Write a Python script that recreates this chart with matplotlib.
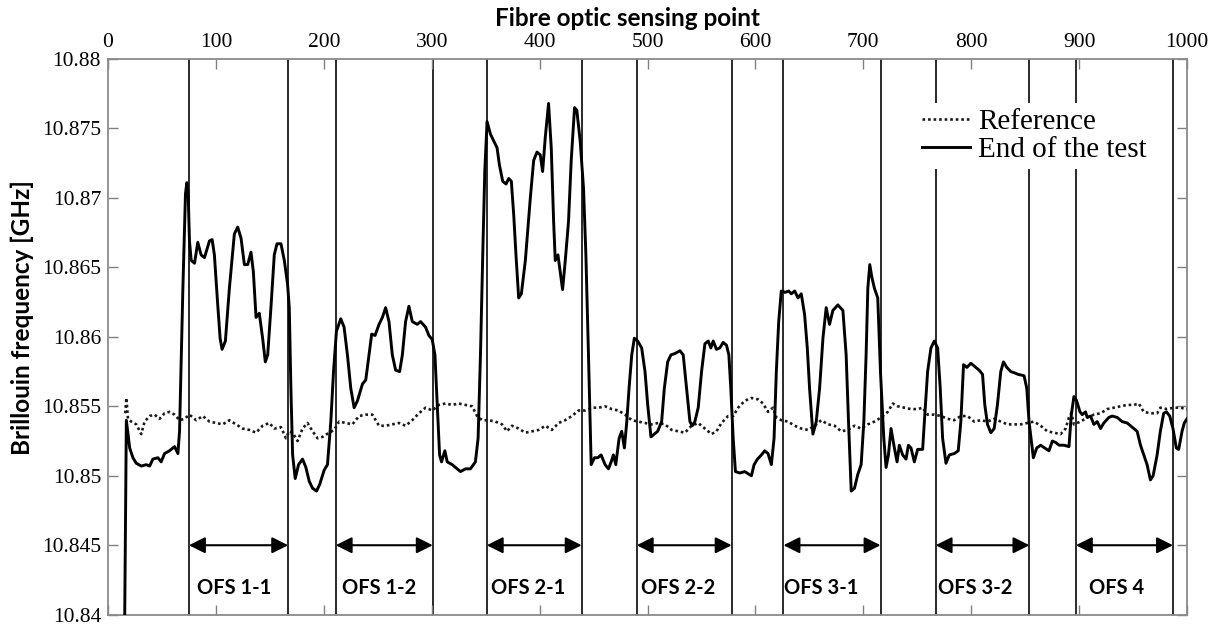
import matplotlib
matplotlib.use("Agg")
import matplotlib.pyplot as plt
from matplotlib.font_manager import FontProperties

# ---------------- data ----------------
end_x = [15.5, 17.0, 20.1, 23.1, 26.2, 30.9, 35.5, 38.6, 41.6, 46.3, 49.3, 52.4, 57.0, 61.7, 64.8, 66.3,
         69.4, 71.8, 73.1, 74.3, 75.5, 77.1, 80.2, 83.2, 86.3, 89.4, 94.0, 96.5, 98.6, 101.7, 103.9,
         105.7, 108.8, 112.5, 117.1, 120.2, 123.3, 126.4, 129.5, 132.5, 134.7, 137.2, 140.2, 143.3,
         145.8, 148.0, 151.0, 154.1, 156.6, 160.3, 163.4, 166.4, 168.0, 169.5, 171.1, 173.5, 176.6,
         180.3, 183.4, 186.5, 189.6, 193.3, 196.3, 200.3, 203.4, 206.5, 209.0, 211.7, 215.7, 218.8,
         221.9, 225.0, 228.1, 231.2, 235.8, 238.9, 241.9, 244.4, 247.5, 251.2, 254.3, 257.3, 260.4,
         263.5, 266.6, 270.3, 272.8, 275.8, 278.9, 282.0, 286.6, 289.7, 294.3, 297.4, 300.5, 303.0,
         305.1, 307.3, 309.1, 312.2, 314.4, 319.0, 323.6, 326.7, 331.3, 335.9, 340.5, 343.0, 345.2,
         347.3, 349.2, 351.3, 354.4, 357.5, 360.6, 362.7, 365.8, 368.9, 371.4, 373.8, 376.0, 378.1,
         380.6, 383.1, 386.8, 391.4, 394.5, 397.6, 400.6, 402.8, 405.3, 408.3, 410.8, 413.0, 414.5,
         417.0, 419.1, 421.3, 423.8, 426.8, 429.3, 432.4, 434.5, 437.6, 440.7, 442.9, 445.3, 447.8,
         450.9, 454.0, 457.0, 460.7, 463.8, 466.3, 468.4, 470.6, 473.7, 476.1, 478.6, 480.8, 482.9,
         485.4, 487.8, 490.9, 494.6, 497.7, 500.2, 503.2, 506.3, 509.4, 513.1, 515.6, 518.7, 521.7,
         525.4, 530.1, 533.1, 536.2, 539.3, 541.5, 543.9, 547.0, 550.1, 553.2, 556.3, 558.7, 560.9,
         563.9, 567.0, 570.1, 573.2, 575.4, 577.2, 579.4, 581.5, 585.5, 590.1, 596.3, 598.8, 601.9,
         605.6, 608.6, 611.7, 614.8, 617.3, 619.4, 621.6, 624.0, 627.7, 630.8, 633.3, 636.4, 639.5,
         642.5, 645.6, 648.1, 650.2, 653.3, 656.4, 659.5, 662.6, 665.6, 668.7, 671.8, 676.4, 681.1,
         684.1, 686.3, 688.8, 691.8, 694.9, 698.0, 700.5, 702.6, 704.2, 706.0, 707.9, 710.3, 713.4,
         715.9, 719.0, 721.1, 723.3, 725.7, 728.8, 731.3, 733.4, 736.5, 739.6, 741.8, 744.2, 747.3,
         750.4, 755.0, 756.6, 759.6, 762.7, 765.8, 768.9, 771.3, 773.5, 776.6, 779.7, 784.3, 788.0,
         790.4, 792.9, 796.0, 799.7, 802.8, 807.4, 810.5, 812.6, 815.1, 818.2, 821.3, 824.3, 827.4,
         829.9, 833.0, 836.7, 840.4, 843.4, 849.0, 851.5, 853.6, 857.6, 860.7, 864.4, 868.1, 872.1,
         875.2, 878.3, 881.4, 886.0, 890.6, 892.8, 895.2, 897.7, 900.8, 902.9, 906.0, 907.5, 910.6,
         913.7, 916.8, 919.9, 922.9, 927.6, 930.7, 935.3, 939.9, 944.5, 949.1, 953.8, 956.9, 959.9,
         963.0, 966.1, 968.6, 972.3, 975.3, 978.4, 980.9, 984.0, 987.0, 990.1, 992.3, 995.4, 997.5,
         1000.0]
end_y = [10.8400, 10.8540, 10.8520, 10.8513, 10.8509, 10.8507, 10.8508, 10.8507, 10.8512, 10.8513,
         10.8510, 10.8516, 10.8518, 10.8521, 10.8516, 10.8532, 10.8635, 10.8703, 10.8711, 10.8703,
         10.8669, 10.8655, 10.8653, 10.8668, 10.8659, 10.8657, 10.8669, 10.8670, 10.8659, 10.8623,
         10.8599, 10.8591, 10.8597, 10.8635, 10.8674, 10.8679, 10.8671, 10.8652, 10.8652, 10.8661,
         10.8647, 10.8614, 10.8617, 10.8599, 10.8582, 10.8587, 10.8621, 10.8659, 10.8667, 10.8667,
         10.8655, 10.8638, 10.8621, 10.8563, 10.8515, 10.8498, 10.8508, 10.8512, 10.8506, 10.8496,
         10.8491, 10.8489, 10.8494, 10.8504, 10.8508, 10.8539, 10.8575, 10.8604, 10.8613, 10.8607,
         10.8587, 10.8563, 10.8549, 10.8554, 10.8566, 10.8569, 10.8587, 10.8602, 10.8601, 10.8609,
         10.8614, 10.8621, 10.8611, 10.8587, 10.8576, 10.8575, 10.8587, 10.8611, 10.8622, 10.8611,
         10.8609, 10.8611, 10.8607, 10.8601, 10.8598, 10.8587, 10.8551, 10.8515, 10.8510, 10.8518,
         10.8510, 10.8508, 10.8505, 10.8503, 10.8505, 10.8505, 10.8510, 10.8527, 10.8587, 10.8659,
         10.8719, 10.8755, 10.8746, 10.8741, 10.8736, 10.8724, 10.8712, 10.8710, 10.8714, 10.8712,
         10.8688, 10.8659, 10.8628, 10.8631, 10.8655, 10.8700, 10.8727, 10.8733, 10.8731, 10.8719,
         10.8744, 10.8768, 10.8736, 10.8683, 10.8655, 10.8659, 10.8647, 10.8634, 10.8655, 10.8683,
         10.8727, 10.8765, 10.8763, 10.8741, 10.8707, 10.8659, 10.8587, 10.8508, 10.8513, 10.8513,
         10.8515, 10.8508, 10.8505, 10.8510, 10.8515, 10.8508, 10.8527, 10.8532, 10.8520, 10.8539,
         10.8563, 10.8587, 10.8599, 10.8597, 10.8592, 10.8575, 10.8551, 10.8528, 10.8530, 10.8532,
         10.8539, 10.8563, 10.8582, 10.8587, 10.8588, 10.8590, 10.8587, 10.8563, 10.8539, 10.8536,
         10.8539, 10.8549, 10.8575, 10.8595, 10.8597, 10.8592, 10.8597, 10.8591, 10.8592, 10.8596,
         10.8594, 10.8587, 10.8563, 10.8527, 10.8503, 10.8502, 10.8503, 10.8500, 10.8508, 10.8512,
         10.8515, 10.8518, 10.8516, 10.8508, 10.8527, 10.8575, 10.8611, 10.8633, 10.8632, 10.8633,
         10.8631, 10.8633, 10.8628, 10.8631, 10.8616, 10.8592, 10.8563, 10.8530, 10.8539, 10.8563,
         10.8599, 10.8621, 10.8609, 10.8619, 10.8623, 10.8619, 10.8587, 10.8539, 10.8489, 10.8491,
         10.8501, 10.8508, 10.8539, 10.8587, 10.8635, 10.8652, 10.8643, 10.8635, 10.8628, 10.8575,
         10.8527, 10.8506, 10.8515, 10.8534, 10.8520, 10.8510, 10.8522, 10.8515, 10.8512, 10.8522,
         10.8520, 10.8510, 10.8519, 10.8519, 10.8539, 10.8575, 10.8592, 10.8597, 10.8592, 10.8563,
         10.8527, 10.8509, 10.8515, 10.8516, 10.8518, 10.8539, 10.8580, 10.8578, 10.8581, 10.8579,
         10.8576, 10.8573, 10.8551, 10.8537, 10.8531, 10.8534, 10.8551, 10.8575, 10.8582, 10.8578,
         10.8575, 10.8574, 10.8573, 10.8572, 10.8563, 10.8539, 10.8513, 10.8520, 10.8522, 10.8520,
         10.8518, 10.8525, 10.8524, 10.8522, 10.8522, 10.8521, 10.8544, 10.8557, 10.8554, 10.8546,
         10.8544, 10.8546, 10.8542, 10.8543, 10.8537, 10.8539, 10.8534, 10.8538, 10.8542, 10.8543,
         10.8542, 10.8539, 10.8538, 10.8535, 10.8532, 10.8522, 10.8515, 10.8508, 10.8497, 10.8500,
         10.8515, 10.8532, 10.8545, 10.8546, 10.8543, 10.8534, 10.8520, 10.8519, 10.8532, 10.8538,
         10.8541]

ref_x = [16.0, 17.0, 18.5, 21.6, 26.2, 30.8, 33.9, 38.6, 43.2, 47.8, 52.4, 57.0, 61.7, 66.3, 70.9,
         75.5, 81.7, 87.9, 94.0, 100.2, 106.3, 112.5, 118.7, 124.8, 131.0, 137.2, 143.3, 149.5,
         154.1, 160.3, 164.9, 168.0, 171.1, 175.7, 180.3, 184.9, 189.6, 194.2, 198.8, 204.9, 209.6,
         214.2, 220.4, 226.5, 232.7, 238.9, 245.0, 251.2, 257.3, 263.5, 269.7, 275.8, 282.0, 288.2,
         294.3, 300.5, 306.6, 312.8, 319.0, 325.1, 331.3, 337.5, 342.1, 346.7, 352.9, 359.0, 365.2,
         369.8, 374.4, 380.6, 386.8, 392.9, 399.1, 405.3, 411.4, 417.6, 423.7, 429.9, 436.1, 442.2,
         448.4, 454.6, 460.7, 466.9, 473.0, 479.2, 485.4, 491.5, 497.7, 503.9, 510.0, 516.2, 522.4,
         528.5, 534.7, 540.8, 547.0, 553.2, 559.3, 563.9, 568.6, 574.7, 579.4, 584.0, 590.2, 596.3,
         602.5, 607.1, 611.7, 616.3, 619.4, 624.0, 630.2, 636.4, 642.5, 648.7, 654.9, 661.0, 667.2,
         673.4, 679.5, 685.7, 691.8, 698.0, 704.2, 710.3, 716.5, 722.7, 727.3, 731.9, 738.1, 744.2,
         750.4, 755.0, 759.6, 765.8, 772.0, 778.1, 784.3, 790.4, 796.6, 802.8, 808.9, 815.1, 821.3,
         827.4, 833.6, 839.8, 845.9, 852.1, 858.2, 864.4, 870.6, 876.7, 882.9, 887.5, 890.6, 892.8,
         895.2, 901.4, 907.5, 913.7, 919.9, 926.0, 932.2, 938.4, 944.5, 950.7, 955.3, 959.9, 966.1,
         972.3, 975.3, 981.5, 987.6, 993.8, 1000.0]
ref_y = [10.8545, 10.8556, 10.8541, 10.8539, 10.8537, 10.8530, 10.8539, 10.8543, 10.8544, 10.8541,
         10.8545, 10.8546, 10.8544, 10.8540, 10.8541, 10.8544, 10.8540, 10.8543, 10.8539, 10.8538,
         10.8537, 10.8540, 10.8537, 10.8534, 10.8533, 10.8531, 10.8536, 10.8538, 10.8534, 10.8535,
         10.8527, 10.8532, 10.8531, 10.8525, 10.8534, 10.8538, 10.8532, 10.8527, 10.8528, 10.8531,
         10.8533, 10.8539, 10.8538, 10.8537, 10.8543, 10.8544, 10.8544, 10.8536, 10.8536, 10.8537,
         10.8538, 10.8536, 10.8540, 10.8545, 10.8549, 10.8547, 10.8551, 10.8552, 10.8551, 10.8552,
         10.8551, 10.8550, 10.8543, 10.8540, 10.8540, 10.8539, 10.8537, 10.8532, 10.8536, 10.8534,
         10.8531, 10.8532, 10.8533, 10.8536, 10.8533, 10.8538, 10.8540, 10.8543, 10.8547, 10.8547,
         10.8549, 10.8549, 10.8550, 10.8548, 10.8547, 10.8544, 10.8540, 10.8539, 10.8538, 10.8537,
         10.8538, 10.8537, 10.8533, 10.8532, 10.8531, 10.8536, 10.8538, 10.8534, 10.8530, 10.8532,
         10.8538, 10.8543, 10.8543, 10.8549, 10.8554, 10.8556, 10.8555, 10.8552, 10.8546, 10.8549,
         10.8542, 10.8540, 10.8539, 10.8536, 10.8534, 10.8533, 10.8536, 10.8540, 10.8537, 10.8536,
         10.8532, 10.8533, 10.8536, 10.8534, 10.8537, 10.8539, 10.8542, 10.8546, 10.8552, 10.8550,
         10.8549, 10.8548, 10.8548, 10.8549, 10.8544, 10.8544, 10.8543, 10.8541, 10.8540, 10.8543,
         10.8543, 10.8539, 10.8540, 10.8539, 10.8541, 10.8539, 10.8537, 10.8537, 10.8537, 10.8538,
         10.8539, 10.8536, 10.8532, 10.8531, 10.8530, 10.8534, 10.8542, 10.8545, 10.8537, 10.8539,
         10.8542, 10.8544, 10.8545, 10.8548, 10.8549, 10.8550, 10.8551, 10.8551, 10.8552, 10.8546,
         10.8545, 10.8545, 10.8549, 10.8548, 10.8549, 10.8549, 10.8548]

boundaries = [75, 167, 211, 301, 351, 439, 490, 578, 626, 716, 767, 854, 897, 987]
ofs_labels = ["OFS 1-1", "OFS 1-2", "OFS 2-1", "OFS 2-2", "OFS 3-1", "OFS 3-2", "OFS 4"]
ofs_label_x = [117, 251, 389, 528, 661, 804, 935]
arrow_y = 10.845
label_y = 10.8419

x_ticks = [0, 100, 200, 300, 400, 500, 600, 700, 800, 900, 1000]
x_tick_labels = ["0", "100", "200", "300", "400", "500", "600", "700", "800", "900", "1000"]
y_ticks = [10.84, 10.845, 10.85, 10.855, 10.86, 10.865, 10.87, 10.875, 10.88]
y_tick_labels = ["10.84", "10.845", "10.85", "10.855", "10.86", "10.865", "10.87", "10.875", "10.88"]

# ---------------- figure ----------------
W, H = 1218, 630
fig = plt.figure(figsize=(W / 100, H / 100), dpi=100)
ax = fig.add_axes([108 / W, 1 - 614.7 / H, 1079 / W, (614.7 - 59) / H])

serif = FontProperties(family="Liberation Serif", size=15.5)
legend_font = FontProperties(family="Liberation Serif", size=21)
bold_sans = FontProperties(family="Lato", weight="bold", size=17.5)
ofs_font = FontProperties(family="Lato", weight="bold", size=14.5)

for b in boundaries:
    ax.axvline(b, color="#2a2a2a", lw=1.4, zorder=1)

ax.plot(ref_x, ref_y, color="#1a1a1a", lw=1.9, linestyle=(0, (1, 1.1)),
        label="Reference", zorder=3)
ax.plot(end_x, end_y, color="black", lw=2.1, label="End of the test", zorder=4)

for i in range(0, len(boundaries), 2):
    ax.annotate("", xy=(boundaries[i], arrow_y), xytext=(boundaries[i + 1], arrow_y),
                arrowprops=dict(arrowstyle="<|-|>,head_length=0.7,head_width=0.35",
                                color="black", lw=1.5, shrinkA=0, shrinkB=0,
                                mutation_scale=14), zorder=5)
for lx, lab in zip(ofs_label_x, ofs_labels):
    ax.text(lx, label_y, lab, ha="center", va="center", fontproperties=ofs_font)

ax.set_xlim(0, 1000)
ax.set_ylim(10.84, 10.88)
ax.set_xticks(x_ticks)
ax.set_xticklabels(x_tick_labels, fontproperties=serif)
ax.set_yticks(y_ticks)
ax.set_yticklabels(y_tick_labels, fontproperties=serif)
ax.tick_params(axis="both", direction="in", length=7, width=1.0, color="#808080",
               top=True, bottom=True, left=True, right=True,
               labeltop=True, labelbottom=False, labelleft=True, labelright=False, pad=5)
for s in ax.spines.values():
    s.set_color("#8a8a8a")
    s.set_linewidth(1.3)

leg = ax.legend(loc="upper left", bbox_to_anchor=(0.749, 0.921), borderaxespad=0,
                frameon=True, facecolor="white", edgecolor="none", framealpha=1,
                fancybox=False, prop=legend_font, handlelength=1.65, handletextpad=0.28,
                borderpad=0.2, labelspacing=0.05)

fig.text(627.5 / W, 1 - 19 / H, "Fibre optic sensing point", ha="center", va="center",
         fontproperties=bold_sans)
fig.text(22 / W, 1 - 318 / H, "Brillouin frequency [GHz]", ha="center", va="center",
         rotation=90, fontproperties=bold_sans)

fig.savefig("out.png", dpi=100)
